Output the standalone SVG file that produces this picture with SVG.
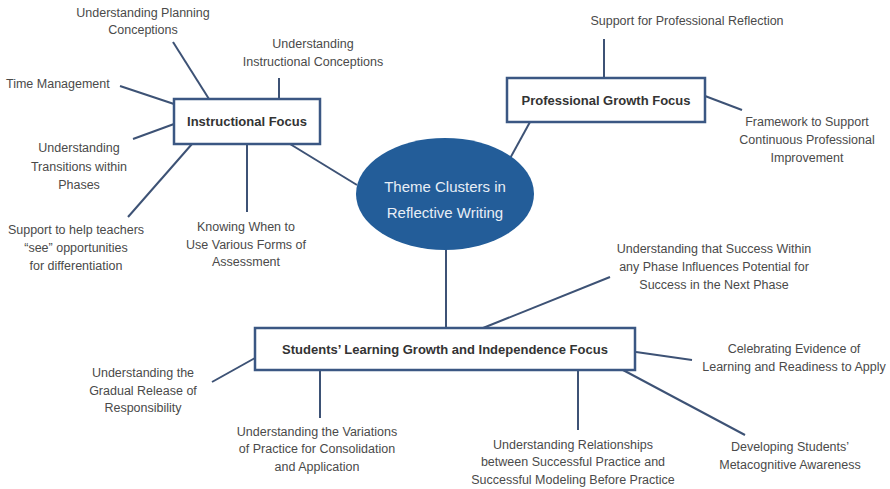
<svg xmlns="http://www.w3.org/2000/svg" width="890" height="489" viewBox="0 0 890 489">
<style>
.lbl{font-family:"Liberation Sans",Arial,sans-serif;font-size:12.5px;fill:#4a4a4a;text-anchor:middle}
.box{fill:#fff;stroke:#3b5783;stroke-width:2.5}
.bt{font-family:"Liberation Sans",Arial,sans-serif;font-size:13px;font-weight:bold;fill:#333;text-anchor:middle}
.ct{font-family:"Liberation Sans",Arial,sans-serif;font-size:15px;fill:#e8eef6;text-anchor:middle}
#connectors line{stroke:#3d5275;stroke-width:2;fill:none}
</style>
<rect width="890" height="489" fill="#fff"/>
<g id="connectors">
<line x1="173" y1="42" x2="209" y2="99"/>
<line x1="279" y1="78" x2="279" y2="99"/>
<line x1="120" y1="86" x2="174" y2="104"/>
<line x1="133" y1="139" x2="174" y2="124"/>
<line x1="128" y1="217" x2="192" y2="144"/>
<line x1="247" y1="144" x2="247" y2="212"/>
<line x1="290" y1="144" x2="357" y2="185"/>
<line x1="530" y1="122" x2="508" y2="162"/>
<line x1="604" y1="39" x2="604" y2="78"/>
<line x1="705" y1="96" x2="742" y2="110"/>
<line x1="446" y1="248" x2="446" y2="328"/>
<line x1="610" y1="277" x2="483" y2="328"/>
<line x1="636" y1="352" x2="692" y2="360"/>
<line x1="623" y1="370" x2="745" y2="435"/>
<line x1="578" y1="370" x2="578" y2="430"/>
<line x1="320" y1="370" x2="320" y2="418"/>
<line x1="212" y1="382" x2="255" y2="358"/>
</g>
<g id="center">
<ellipse cx="445" cy="194" rx="89" ry="56" fill="#235d99"/>
<text class="ct" x="445" y="192">Theme Clusters in</text>
<text class="ct" x="445" y="218">Reflective Writing</text>
</g>
<g id="instructional">
<rect class="box" x="174" y="99" width="146" height="45"/>
<text class="bt" x="247" y="126">Instructional Focus</text>
</g>
<g id="professional">
<rect class="box" x="507" y="78" width="198" height="44"/>
<text class="bt" x="606" y="105">Professional Growth Focus</text>
</g>
<g id="students">
<rect class="box" x="255" y="328" width="380" height="42"/>
<text class="bt" x="445" y="354">Students’ Learning Growth and Independence Focus</text>
</g>
<g id="planning"><text class="lbl" x="143" y="17">Understanding Planning</text><text class="lbl" x="143" y="34">Conceptions</text></g>
<g id="instrconc"><text class="lbl" x="313" y="48">Understanding</text><text class="lbl" x="313" y="66">Instructional Conceptions</text></g>
<g id="time"><text class="lbl" x="6" y="88" style="text-anchor:start">Time Management</text></g>
<g id="transitions"><text class="lbl" x="79" y="152">Understanding</text><text class="lbl" x="79" y="171">Transitions within</text><text class="lbl" x="79" y="189">Phases</text></g>
<g id="differentiation"><text class="lbl" x="76" y="234">Support to help teachers</text><text class="lbl" x="76" y="252">“see” opportunities</text><text class="lbl" x="76" y="270">for differentiation</text></g>
<g id="assessment"><text class="lbl" x="246" y="231">Knowing When to</text><text class="lbl" x="246" y="249">Use Various Forms of</text><text class="lbl" x="246" y="266">Assessment</text></g>
<g id="reflection"><text class="lbl" x="687" y="25">Support for Professional Reflection</text></g>
<g id="framework"><text class="lbl" x="807" y="126">Framework to Support</text><text class="lbl" x="807" y="144">Continuous Professional</text><text class="lbl" x="807" y="162">Improvement</text></g>
<g id="success"><text class="lbl" x="714" y="253">Understanding that Success Within</text><text class="lbl" x="714" y="271">any Phase Influences Potential for</text><text class="lbl" x="714" y="289">Success in the Next Phase</text></g>
<g id="celebrating"><text class="lbl" x="794" y="353">Celebrating Evidence of</text><text class="lbl" x="794" y="371">Learning and Readiness to Apply</text></g>
<g id="metacognitive"><text class="lbl" x="790" y="451">Developing Students’</text><text class="lbl" x="790" y="469">Metacognitive Awareness</text></g>
<g id="relationships"><text class="lbl" x="573" y="449">Understanding Relationships</text><text class="lbl" x="573" y="466">between Successful Practice and</text><text class="lbl" x="573" y="484">Successful Modeling Before Practice</text></g>
<g id="gradual"><text class="lbl" x="143" y="377">Understanding the</text><text class="lbl" x="143" y="395">Gradual Release of</text><text class="lbl" x="143" y="412">Responsibility</text></g>
<g id="variations"><text class="lbl" x="317" y="436">Understanding the Variations</text><text class="lbl" x="317" y="453">of Practice for Consolidation</text><text class="lbl" x="317" y="471">and Application</text></g>
</svg>
